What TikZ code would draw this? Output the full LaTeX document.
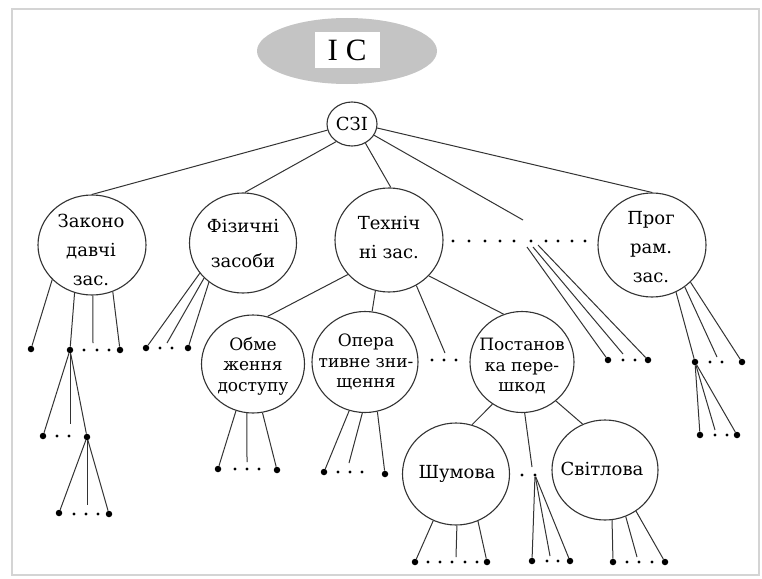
\documentclass[tikz,border=0pt]{standalone}
\usepackage{fontspec}
\newfontfamily\bodyfont{DejaVu Serif}
\newfontfamily\icfont{Liberation Serif}
\usetikzlibrary{shapes.geometric}
\definecolor{ln}{HTML}{333333}
\definecolor{icgray}{HTML}{C4C4C4}
\definecolor{framec}{HTML}{D4D4D4}
\begin{document}
\begin{tikzpicture}[x=1pt,y=-1pt,
  bub/.style={draw=ln, ellipse, line width=1.1pt, minimum width=106pt, minimum height=100pt, inner sep=0pt},
  lbl/.style={align=center, inner sep=0pt, font=\bodyfont\fontsize{18}{29}\selectfont},
  lbls/.style={align=center, inner sep=0pt, font=\bodyfont\fontsize{17}{20.5}\selectfont},
  edge/.style={draw=ln, line width=1pt},
  bigdot/.style={circle, fill=black, inner sep=0pt, minimum size=6.5pt},
  smalldot/.style={circle, fill=black, inner sep=0pt, minimum size=3.3pt}]
\useasboundingbox (0,0) rectangle (762,578);
\fill[white] (0,0) rectangle (762,578);
\draw[framec, line width=1.5pt] (12,9) rectangle (759,575);

% top
\node[ellipse, fill=icgray, minimum width=180pt, minimum height=66pt, inner sep=0pt] (ic) at (347,51) {};
\node[fill=white, minimum width=65pt, minimum height=36pt, inner sep=0pt, font=\icfont\fontsize{31}{31}\selectfont] (icT) at (347,50) {I\hspace{8pt}C};

\node[bub, minimum width=50pt, minimum height=44pt] (c3i) at (352,124) {};
\node[lbl] (c3iT) at (352,124) {СЗІ};

% level 1
\node[bub, minimum width=108pt] (zak) at (92,245) {};
\node[lbl] (zakT) at (91,250) {Законо\\давчі\\зас.};
\node[bub, minimum width=107pt] (fiz) at (243,243) {};
\node[lbl] (fizT) at (243,244) {Фізичні\\[6pt]засоби};
\node[bub, minimum width=108pt, minimum height=104pt] (tech) at (389,240) {};
\node[lbl] (techT) at (389,238) {Техніч\\ні зас.};
\node[bub, minimum width=108pt, minimum height=104pt] (prog) at (652,245) {};
\node[lbl] (progT) at (651,247) {Прог\\рам.\\зас.};

% level 2
\node[bub, minimum width=103pt, minimum height=98pt] (obm) at (253,364) {};
\node[lbls] (obmT) at (253,366) {Обме\\ження\\доступу};
\node[bub, minimum width=106pt, minimum height=101pt] (oper) at (365,362) {};
\node[lbls] (operT) at (366,362) {Опера\\тивне зни-\\щення};
\node[bub, minimum width=104pt, minimum height=101pt] (post) at (522,362) {};
\node[lbls] (postT) at (522,366) {Постанов\\ка пере-\\шкод};

% level 3
\node[bub, minimum width=107pt, minimum height=102pt] (shum) at (456,474) {};
\node[lbl] (shumT) at (457,474) {Шумова};
\node[bub, minimum width=106pt, minimum height=100pt] (svit) at (605,470) {};
\node[lbl] (svitT) at (602,469) {Світлова};

% C3I edges
\coordinate (dtop) at (523,220);
\draw[edge] (c3i.194) -- (zak.north);
\draw[edge] (c3i.228) -- (fiz.88);
\draw[edge] (c3i.305) -- (tech.88);
\draw[edge] (c3i.333) -- (dtop);
\draw[edge] (c3i.351) -- (prog.north);

% dotted row between tech and prog
\foreach \x in {453,469,485,500,514,531,546,558,572,585}
  \node[smalldot] (r\x) at (\x,241) {};
\coordinate (u1) at (527,247);
\coordinate (u2) at (533,247);
\coordinate (u3) at (538,245);
\node[bigdot] (g1) at (608,360) {};
\coordinate (g2) at (623,354);
\node[bigdot] (g3) at (648,360) {};
\node[smalldot] (g4) at (623,360) {};
\node[smalldot] (g5) at (635,360) {};
\draw[edge] (u1) -- (g1);
\draw[edge] (u2) -- (g2);
\draw[edge] (u3) -- (g3);

% Zakono group
\node[bigdot] (a0) at (31,349) {};
\node[bigdot] (a1) at (70,350) {};
\coordinate (am) at (93,343);
\node[bigdot] (a2) at (120,350) {};
\foreach \x in {84,97,109} \node[smalldot] (as\x) at (\x,350) {};
\draw[edge] (zak.221) -- (a0);
\draw[edge] (zak.250) -- (a1);
\draw[edge] (zak.271) -- (am);
\draw[edge] (zak.294) -- (a2);

\node[bigdot] (b0) at (43,436) {};
\coordinate (bm) at (70,424);
\node[bigdot] (b1) at (87,437) {};
\foreach \x in {57,69} \node[smalldot] (bs\x) at (\x,436) {};
\draw[edge] (a1) -- (b0);
\draw[edge] (a1) -- (bm);
\draw[edge] (a1) -- (b1);

\node[bigdot] (c0) at (59,513) {};
\coordinate (cm) at (87,505);
\node[bigdot] (c1) at (109,514) {};
\foreach \x in {74,86,98} \node[smalldot] (cs\x) at (\x,514) {};
\draw[edge] (b1) -- (c0);
\draw[edge] (b1) -- (cm);
\draw[edge] (b1) -- (c1);

% Fizychni group
\node[bigdot] (f0) at (146,348) {};
\coordinate (fm) at (167,343);
\node[bigdot] (f1) at (188,348) {};
\foreach \x in {160,172} \node[smalldot] (fs\x) at (\x,348) {};
\draw[edge] (fiz.215) -- (f0);
\draw[edge] (fiz.222) -- (fm);
\draw[edge] (fiz.229) -- (f1);

% Tech edges
\draw[edge] (tech.220) -- (obm.73);
\draw[edge] (tech.255) -- (oper.82);
\coordinate (tm) at (445,353);
\draw[edge] (tech.301) -- (tm);
\foreach \x in {432,444,456} \node[smalldot] (ts\x) at (\x,360) {};
\draw[edge] (tech.318) -- (post.111);

% Obm group
\node[bigdot] (o0) at (218,469) {};
\coordinate (om) at (247,462);
\node[bigdot] (o1) at (277,470) {};
\foreach \x in {235,247,259} \node[smalldot] (os\x) at (\x,469) {};
\draw[edge] (obm.250) -- (o0);
\draw[edge] (obm.263) -- (om);
\draw[edge] (obm.281) -- (o1);

% Oper group
\node[bigdot] (p0) at (324,472) {};
\coordinate (pm) at (349,463);
\node[bigdot] (p1) at (385,474) {};
\foreach \x in {338,350,362} \node[smalldot] (ps\x) at (\x,472) {};
\draw[edge] (oper.252) -- (p0);
\draw[edge] (oper.267) -- (pm);
\draw[edge] (oper.284) -- (p1);

% Post edges
\draw[edge] (post.235) -- (shum.72);
\coordinate (qm) at (532,467);
\draw[edge] (post.273) -- (qm);
\node[smalldot] (q1) at (522,475) {};
\node[smalldot] (q2) at (535,475) {};
\draw[edge] (post.311) -- (svit.116);

\node[bigdot] (s0) at (532,561) {};
\coordinate (sm) at (550,556);
\node[bigdot] (s1) at (570,561) {};
\foreach \x in {547,558} \node[smalldot] (ss\x) at (\x,561) {};
\draw[edge] (q2) -- (s0);
\draw[edge] (q2) -- (sm);
\draw[edge] (q2) -- (s1);

% Shumova group
\node[bigdot] (h0) at (415,562) {};
\coordinate (hm) at (456,557);
\node[bigdot] (h1) at (487,562) {};
\foreach \x in {428,440,452,465,477} \node[smalldot] (hs\x) at (\x,562) {};
\draw[edge] (shum.244) -- (h0);
\draw[edge] (shum.271) -- (hm);
\draw[edge] (shum.295) -- (h1);

% Svitlova group
\node[bigdot] (v0) at (613,562) {};
\coordinate (vm) at (637,557);
\node[bigdot] (v1) at (665,562) {};
\foreach \x in {627,639,652} \node[smalldot] (vs\x) at (\x,562) {};
\draw[edge] (svit.278) -- (v0);
\draw[edge] (svit.294) -- (vm);
\draw[edge] (svit.307) -- (v1);

% Prog group
\node[bigdot] (k0) at (695,362) {};
\coordinate (km) at (717,357);
\node[bigdot] (k1) at (742,362) {};
\foreach \x in {710,722} \node[smalldot] (ks\x) at (\x,362) {};
\draw[edge] (prog.297) -- (k0);
\draw[edge] (prog.308) -- (km);
\draw[edge] (prog.316) -- (k1);

\node[bigdot] (m0) at (700,435) {};
\coordinate (mm) at (715,430);
\node[bigdot] (m1) at (737,435) {};
\foreach \x in {715,727} \node[smalldot] (ms\x) at (\x,435) {};
\draw[edge] (k0) -- (m0);
\draw[edge] (k0) -- (mm);
\draw[edge] (k0) -- (m1);
\end{tikzpicture}
\end{document}
